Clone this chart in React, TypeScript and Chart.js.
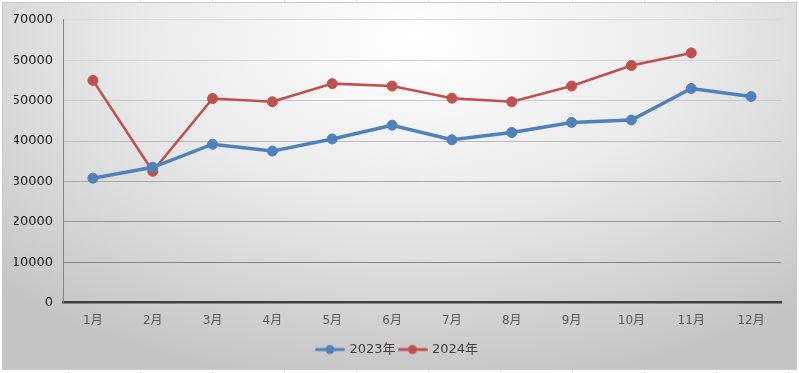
import React, { useEffect, useRef } from "react";
import { Chart, registerables } from "chart.js";

Chart.register(...registerables);

const categories = ["1月", "2月", "3月", "4月", "5月", "6月", "7月", "8月", "9月", "10月", "11月", "12月"];
const series2023 = [30800, 33500, 39200, 37500, 40500, 43900, 40300, 42100, 44600, 45200, 53000, 51000];
const series2024 = [55000, 32500, 50500, 49700, 54200, 53600, 50600, 49700, 53600, 58700, 61800, null];
const seriesNames = ["2023年", "2024年"];

const BLUE = "#4f81bd";
const RED = "#c0504d";
const FONT = "'DejaVu Sans', 'Noto Sans CJK SC', sans-serif";

const gridColors = ["#858585", "#858585", "#979797", "#aaaaaa", "#bbbbbb", "#c9c9c9", "#d3d3d3", "#dadada"];

function legendIcon(color: string, lw: number): HTMLCanvasElement {
  const c = document.createElement("canvas");
  c.width = 30;
  c.height = 12;
  const g = c.getContext("2d")!;
  g.strokeStyle = color;
  g.lineWidth = lw;
  g.lineCap = "round";
  g.beginPath();
  g.moveTo(1.5, 6);
  g.lineTo(28.5, 6);
  g.stroke();
  g.fillStyle = color;
  g.beginPath();
  g.arc(15, 6, 4.5, 0, Math.PI * 2);
  g.fill();
  return c;
}

export default function App() {
  const ref = useRef<HTMLCanvasElement | null>(null);

  useEffect(() => {
    document.body.style.margin = "0";
    const icons = [legendIcon(BLUE, 3), legendIcon(RED, 3)];
    const chart = new Chart(ref.current!, {
      type: "line",
      data: {
        labels: categories,
        datasets: [
          {
            label: seriesNames[0],
            data: series2023,
            borderColor: BLUE,
            backgroundColor: BLUE,
            borderWidth: 3.5,
            pointRadius: 5,
            pointBorderWidth: 1,
            pointBackgroundColor: BLUE,
            pointBorderColor: BLUE,
            tension: 0,
          },
          {
            label: seriesNames[1],
            data: series2024,
            borderColor: RED,
            backgroundColor: RED,
            borderWidth: 2.5,
            pointRadius: 5,
            pointBorderWidth: 1,
            pointBackgroundColor: RED,
            pointBorderColor: RED,
            tension: 0,
          },
        ],
      },
      options: {
        animation: false,
        responsive: false,
        maintainAspectRatio: false,
        layout: { padding: { left: 12, right: 16, top: 6, bottom: 4 } },
        plugins: {
          tooltip: { enabled: false },
          legend: {
            position: "bottom",
            labels: {
              usePointStyle: true,
              pointStyleWidth: 26,
              boxHeight: 12,
              padding: 4,
              color: "#404040",
              font: { family: FONT, size: 13 },
              generateLabels: (ch: any) =>
                ch.data.datasets.map((ds: any, i: number) => ({
                  text: ds.label,
                  fillStyle: ds.borderColor,
                  strokeStyle: ds.borderColor,
                  lineWidth: 0,
                  pointStyle: icons[i],
                  hidden: false,
                  datasetIndex: i,
                  fontColor: "#404040",
                })),
            },
          },
        },
        scales: {
          x: {
            offset: true,
            grid: { display: false, drawTicks: false },
            border: { display: true, color: "#404040", width: 2.5 },
            ticks: { color: "#595959", font: { family: FONT, size: 12 }, padding: 11, maxRotation: 0 },
          },
          y: {
            min: 0,
            max: 70000,
            afterFit: (s: any) => {
              s.width = 49;
            },
            grid: {
              drawTicks: false,
              color: (ctx: any) => gridColors[ctx.index] || "#cccccc",
              lineWidth: 1,
            },
            border: { display: true, color: "#868686", width: 1 },
            ticks: {
              stepSize: 10000,
              color: "#1a1a1a",
              font: { family: FONT, size: 13 },
              padding: 10,
              callback: (v: any) => String(v),
            },
          },
        },
      },
    } as any);
    return () => chart.destroy();
  }, []);

  return (
    <div
      style={{
        position: "relative",
        width: 799,
        height: 373,
        background:
          "repeating-linear-gradient(90deg, transparent 0px, transparent 68px, #e4e4e4 68px, #e4e4e4 69px, transparent 69px, transparent 72px), #ffffff",
      }}
    >
      <div
        style={{
          position: "absolute",
          left: 2,
          top: 2,
          width: 795,
          height: 368,
          outline: "1px solid #c8c8c8",
          outlineOffset: -1,
          background: "radial-gradient(ellipse 75% 95% at 52% 10%, #ffffff 0%, #ebebeb 45%, #d2d2d2 80%, #c4c4c4 100%)",
        }}
      >
        <canvas ref={ref} width={795} height={368} style={{ display: "block", width: 795, height: 368 }} />
      </div>
    </div>
  );
}
